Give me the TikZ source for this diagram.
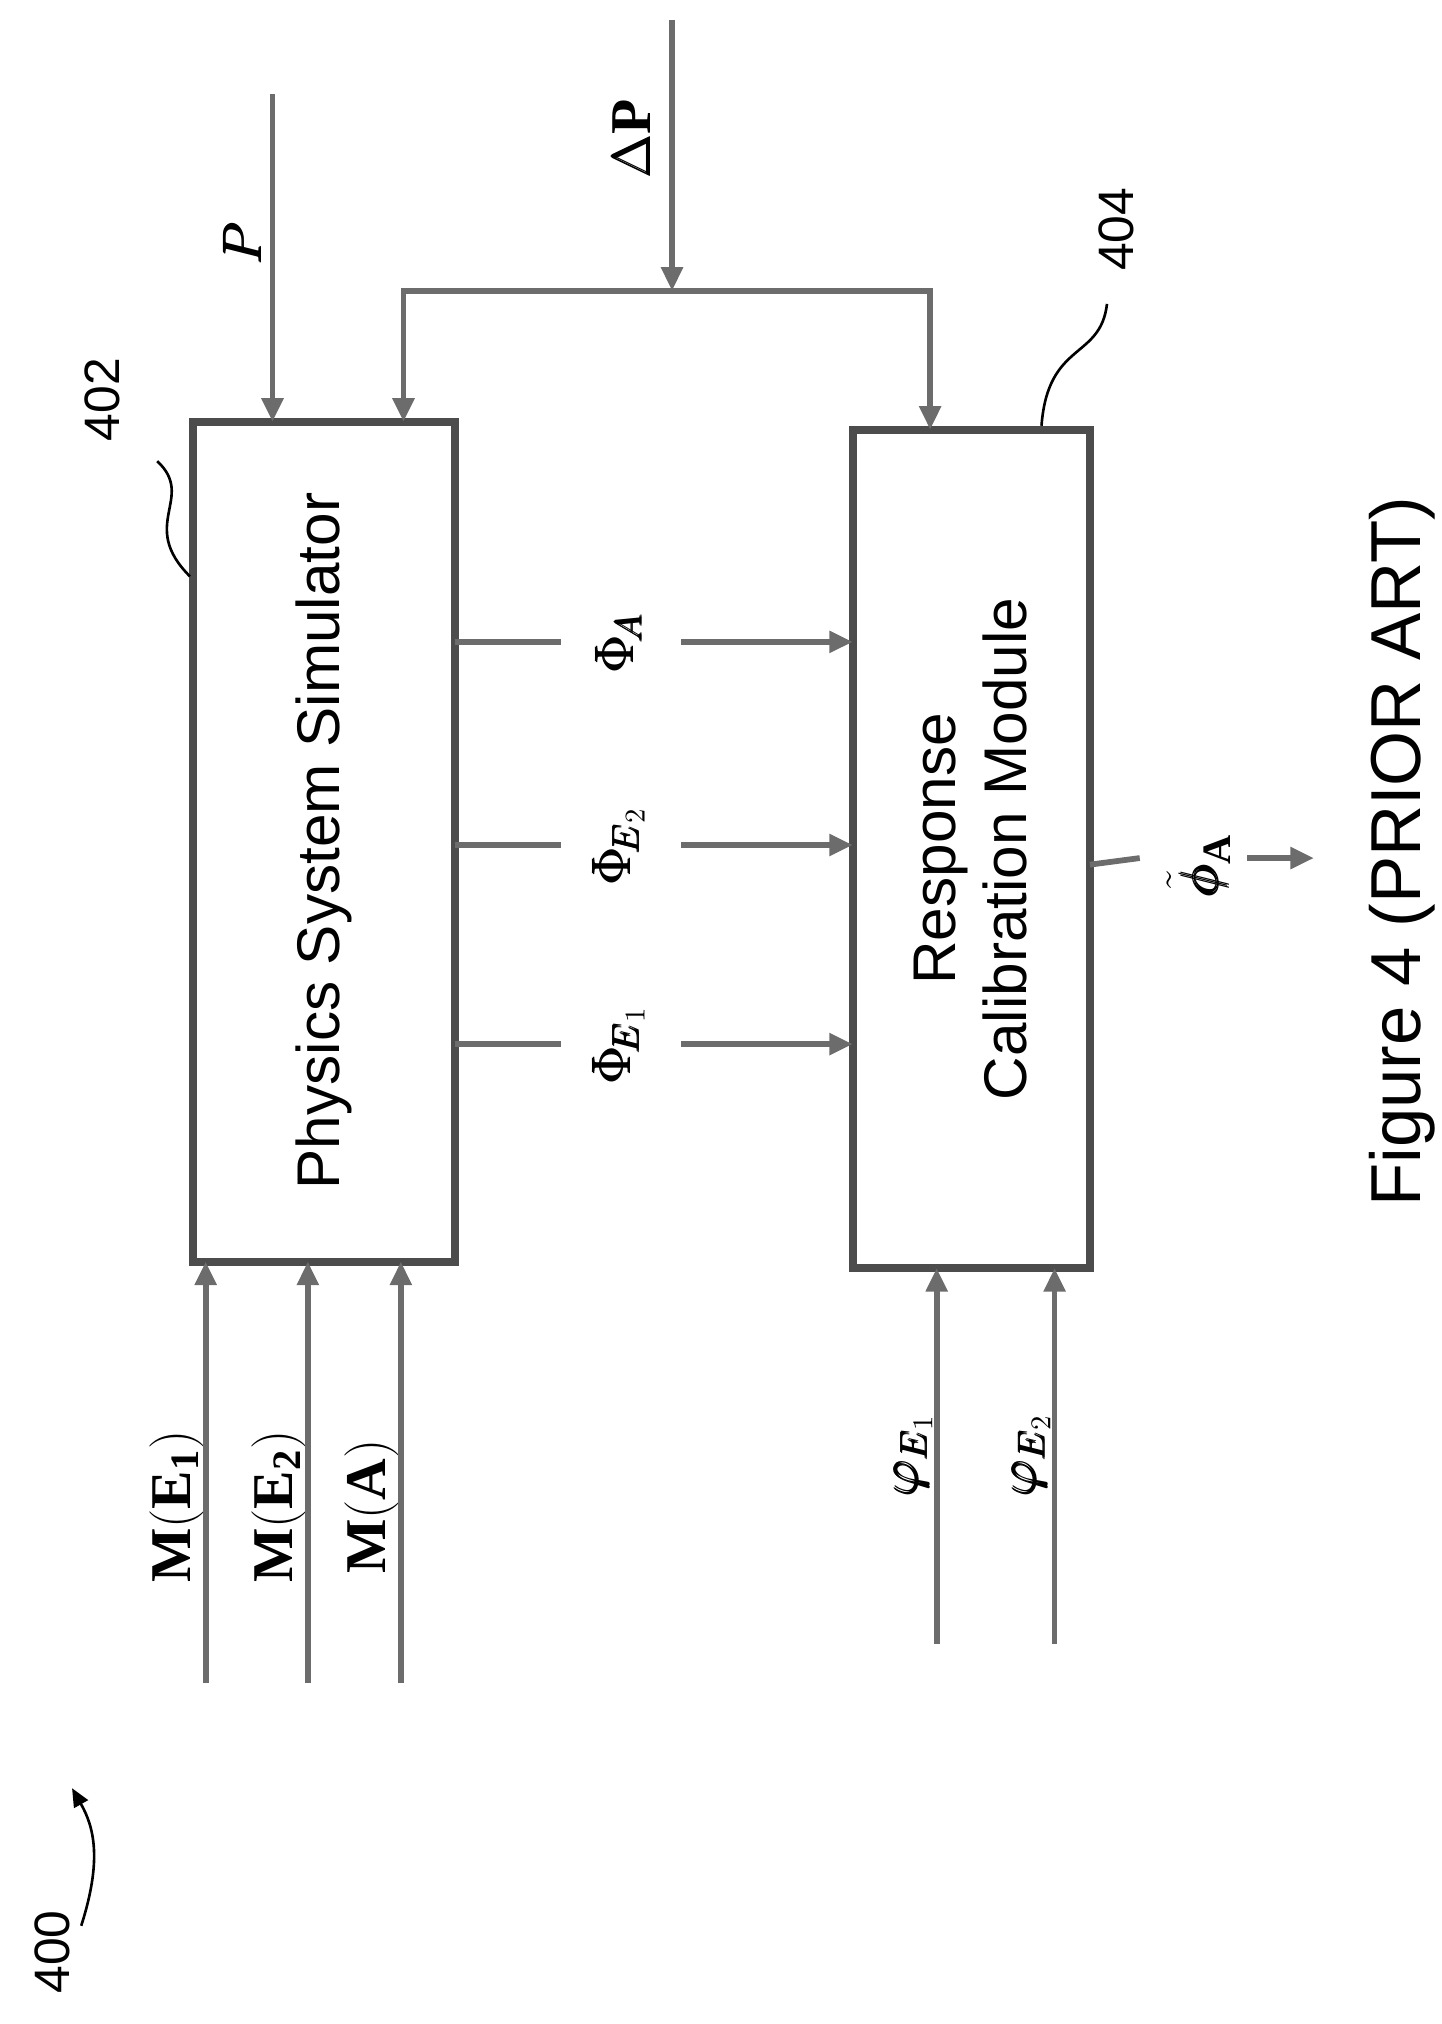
\documentclass[tikz,border=0pt]{standalone}
\usepackage{amsmath,amssymb}
\usepackage{fontspec}
\setmainfont{Liberation Serif}
\newfontfamily\labelfont{Liberation Sans}
\usetikzlibrary{arrows.meta,calc,positioning}
\tikzset{
  wire/.style={draw=gray!85!black,line width=2.2pt},
  feed/.style={wire,-{Triangle[length=9pt,width=8pt]}},
  block/.style={draw=black!70,line width=3pt,fill=white},
  tag/.style={font=\labelfont\fontsize{23}{27}\selectfont,rotate=90},
  num/.style={font=\labelfont\fontsize{19}{22}\selectfont,rotate=90},
  sym/.style={font=\fontsize{22}{24}\selectfont\bfseries,rotate=90},
}
\begin{document}
\begin{tikzpicture}[x=0.5pt,y=-0.5pt]
%
  \useasboundingbox (0,0) rectangle (1100,1545);
%
  \draw[block] (147,322) rectangle (347,963);
  \draw[block] (651,328) rectangle (832,968);
  \node[tag,align=center] (pss) at (247,642) {Physics System Simulator};
  \node[tag,align=center] (rcm) at (741,648) {Response\\Calibration Module};
%
  % inputs from the top
  \node[sym] (p) at (185,185) {$\pmb{P}$};
  \coordinate (ptop) at (208,72);
  \draw[feed] (ptop) -- (208,322);
  \node[sym] (dp) at (482,105) {$\pmb{\Delta}\mathbf{P}$};
  \coordinate (dtop) at (513,15);
  \coordinate (split) at (513,222);
  \draw[feed] (dtop) -- (split);
  \draw[feed] (split) -| (308,322);
  \draw[feed] (split) -| (710,328);
%
  % reference numerals
  \node[num] (n402) at (78,305) {402};
  \draw[line width=1pt] (145,440) .. controls (105,400) and (150,380) .. (120,352);
  \node[num] (n404) at (852,175) {404};
  \draw[line width=1pt] (795,325) .. controls (800,260) and (840,275) .. (845,232);
  \node[num] (n400) at (40,1490) {400};
  \draw[line width=1pt,-{Triangle[length=7pt,width=6pt]}] (62,1470) .. controls (78,1420) and (72,1395) .. (55,1365);
%
  % simulator outputs
  \foreach \yy/\lab/\nm in {490/{\pmb{\Phi}_{\!\pmb{A}}}/fa,645/{\pmb{\Phi}_{\!\pmb{E}_2}}/fe2,797/{\pmb{\Phi}_{\!\pmb{E}_1}}/fe1}{
    \node[sym] (\nm) at (472,\yy) {$\lab$};
    \draw[wire] (347,\yy) -- (428,\yy);
    \draw[feed] (520,\yy) -- (651,\yy);
  }
%
  % calibrated output
  \node[sym] (fout) at (915,660) {$\tilde{\pmb{\phi}}_{\mathbf{A}}$};
  \draw[wire] (832,660) -- (870,655);
  \draw[feed] (952,655) -- (1003,655);
%
  % material inputs
  \foreach \xx/\lab/\nm in {157/{\mathbf{M(E_1)}}/me1,235/{\mathbf{M(E_2)}}/me2,306/{\mathbf{M(A)}}/ma}{
    \node[sym] (\nm) at (\xx-22,1150) {$\lab$};
    \draw[feed] (\xx,1285) -- (\xx,963);
  }
  \foreach \xx/\lab/\nm in {715/{\pmb{\varphi}_{\pmb{E}_1}}/ve1,805/{\pmb{\varphi}_{\pmb{E}_2}}/ve2}{
    \node[sym] (\nm) at (\xx-18,1110) {$\lab$};
    \draw[feed] (\xx,1255) -- (\xx,968);
  }
%
  \node[rotate=90,font=\labelfont\fontsize{27}{30}\selectfont] (fig) at (1070,650) {Figure 4  (PRIOR ART)};
\end{tikzpicture}
\end{document}
